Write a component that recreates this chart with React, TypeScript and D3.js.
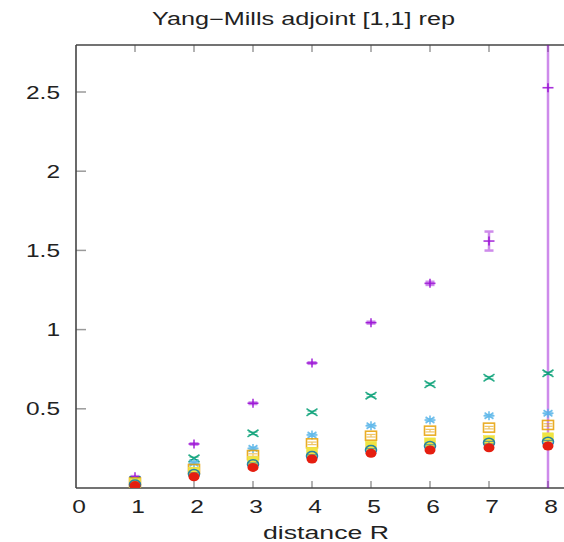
import React from "react";
import * as d3 from "d3";

const distances = [1, 2, 3, 4, 5, 6, 7, 8];
const purpleVals = [0.071, 0.278, 0.535, 0.789, 1.044, 1.292, 1.559, 2.527];
const purpleErr = [0.004, 0.004, 0.005, 0.005, 0.006, 0.01, 0.06, 3.0];
const greenVals = [0.05, 0.187, 0.345, 0.478, 0.583, 0.655, 0.696, 0.724];
const skyVals = [0.042, 0.157, 0.25, 0.335, 0.393, 0.429, 0.456, 0.472];
const orangeVals = [0.035, 0.12, 0.208, 0.282, 0.33, 0.362, 0.381, 0.398];
const yellowVals = [0.03, 0.103, 0.17, 0.229, 0.267, 0.288, 0.303, 0.32];
const blueVals = [0.022, 0.088, 0.15, 0.202, 0.24, 0.265, 0.286, 0.292];
const redVals = [0.015, 0.071, 0.13, 0.183, 0.219, 0.24, 0.254, 0.265];
const smallErr = [0.008, 0.008, 0.008, 0.008, 0.008, 0.008, 0.008, 0.008];

const xTicks = [0, 1, 2, 3, 4, 5, 6, 7, 8];
const yTicks = [0.5, 1, 1.5, 2, 2.5];

type Shape = "plus" | "cross" | "star" | "osquare" | "fsquare" | "ocircle" | "fcircle";

const series: { vals: number[]; err: number[]; color: string; shape: Shape }[] = [
  { vals: purpleVals, err: purpleErr, color: "#9400d3", shape: "plus" },
  { vals: greenVals, err: smallErr, color: "#009e73", shape: "cross" },
  { vals: skyVals, err: smallErr, color: "#56b4e9", shape: "star" },
  { vals: orangeVals, err: smallErr, color: "#e69f00", shape: "osquare" },
  { vals: yellowVals, err: smallErr, color: "#f0e442", shape: "fsquare" },
  { vals: blueVals, err: smallErr, color: "#0072b2", shape: "ocircle" },
  { vals: redVals, err: smallErr, color: "#e51e10", shape: "fcircle" },
];

const L = 76, R = 570, T = 45, B = 488;
const SX = 1.4;
const FONT = "'Liberation Sans', Arial, Helvetica, sans-serif";

function Marker({ cx, cy, color, shape }: { cx: number; cy: number; color: string; shape: Shape }) {
  const hw = 5.5, hh = 4.5;
  const sw = 1.6;
  switch (shape) {
    case "plus":
      return (
        <g stroke={color} strokeWidth={sw} opacity={0.8}>
          <line x1={cx - hw} x2={cx + hw} y1={cy} y2={cy} />
          <line x1={cx} x2={cx} y1={cy - hh} y2={cy + hh} />
        </g>
      );
    case "cross":
      return (
        <g stroke={color} strokeWidth={sw} opacity={0.85}>
          <line x1={cx - hw} x2={cx + hw} y1={cy - hh * 0.8} y2={cy + hh * 0.8} />
          <line x1={cx - hw} x2={cx + hw} y1={cy + hh * 0.8} y2={cy - hh * 0.8} />
        </g>
      );
    case "star":
      return (
        <g stroke={color} strokeWidth={sw} opacity={0.85}>
          <line x1={cx - hw} x2={cx + hw} y1={cy} y2={cy} />
          <line x1={cx} x2={cx} y1={cy - hh} y2={cy + hh} />
          <line x1={cx - hw * 0.8} x2={cx + hw * 0.8} y1={cy - hh * 0.7} y2={cy + hh * 0.7} />
          <line x1={cx - hw * 0.8} x2={cx + hw * 0.8} y1={cy + hh * 0.7} y2={cy - hh * 0.7} />
        </g>
      );
    case "osquare":
      return (
        <rect x={cx - hw} y={cy - hh} width={2 * hw} height={2 * hh} fill="none" stroke={color} strokeWidth={sw} opacity={0.85} />
      );
    case "fsquare":
      return <rect x={cx - hw} y={cy - hh} width={2 * hw} height={2 * hh} fill={color} stroke={color} strokeWidth={0.5} />;
    case "ocircle":
      return <ellipse cx={cx} cy={cy} rx={hw} ry={hh} fill="none" stroke={color} strokeWidth={sw} opacity={0.85} />;
    case "fcircle":
      return <ellipse cx={cx} cy={cy} rx={hw} ry={hh} fill={color} />;
  }
}

function SText({ x, y, children, anchor = "middle", size = 17.5, len }: any) {
  if (len) {
    return (
      <text x={x} y={y} textAnchor={anchor} fontFamily={FONT} fontSize={size} fill="#222" textLength={len} lengthAdjust="spacingAndGlyphs">
        {children}
      </text>
    );
  }
  return (
    <text transform={`translate(${x},${y}) scale(${SX},1)`} textAnchor={anchor} fontFamily={FONT} fontSize={size} fill="#222">
      {children}
    </text>
  );
}

export default function App() {
  const x = d3.scaleLinear().domain([0, 8]).range([L, 548]);
  const y = d3.scaleLinear().domain([0, 2.5]).range([B, 92]);
  const capW = 4.5;

  return (
    <svg width={564} height={542} style={{ position: "absolute", left: 0, top: 0, background: "#fff" }}>
      <defs>
        <clipPath id="plotclip">
          <rect x={L} y={T} width={R - L} height={B - T} />
        </clipPath>
      </defs>
      <rect x={0} y={0} width={564} height={542} fill="#fff" />

      {/* ticks */}
      <g stroke="#9a9a9a" strokeWidth={1.5}>
        {yTicks.map((t) => (
          <line key={"yt" + t} x1={L} x2={L + 10} y1={y(t)} y2={y(t)} />
        ))}
        {xTicks.filter((t) => t > 0).map((t) => (
          <g key={"xt" + t}>
            <line x1={x(t)} x2={x(t)} y1={B} y2={B - 7} />
            <line x1={x(t)} x2={x(t)} y1={T} y2={T + 7} />
          </g>
        ))}
      </g>

      {/* frame */}
      <g stroke="#444" strokeWidth={1.6} fill="none">
        <line x1={L} x2={L} y1={T} y2={B} />
        <line x1={L} x2={R} y1={B} y2={B} />
        <line x1={L} x2={R} y1={T} y2={T} />
      </g>

      {/* data */}
      <g clipPath="url(#plotclip)">
        {series.map((s, si) => (
          <g key={"s" + si}>
            {s.vals.map((v, i) => {
              const cx = x(distances[i]);
              const lo = y(v - s.err[i]);
              const hi = y(v + s.err[i]);
              const big = si === 0;
              return (
                <g key={"e" + i} stroke={s.color} strokeWidth={big ? 2.5 : 1.2} opacity={big ? 0.45 : 0.6}>
                  <line x1={cx} x2={cx} y1={lo} y2={hi} />
                  <line x1={cx - capW} x2={cx + capW} y1={lo} y2={lo} />
                  <line x1={cx - capW} x2={cx + capW} y1={hi} y2={hi} />
                </g>
              );
            })}
            {s.vals.map((v, i) => (
              <Marker key={"m" + i} cx={x(distances[i])} cy={y(v)} color={s.color} shape={s.shape} />
            ))}
          </g>
        ))}
      </g>

      {/* tick labels */}
      {yTicks.map((t) => (
        <SText key={"yl" + t} x={60} y={y(t) + 6.5} anchor="end">
          {String(t)}
        </SText>
      ))}
      {xTicks.map((t) => (
        <SText key={"xl" + t} x={x(t) + 3} y={513}>
          {String(t)}
        </SText>
      ))}

      <SText x={303.5} y={25} len={303}>
        {"Yang\u2212Mills  adjoint [1,1] rep"}
      </SText>
      <SText x={326} y={539} len={126}>
        distance R
      </SText>
    </svg>
  );
}
